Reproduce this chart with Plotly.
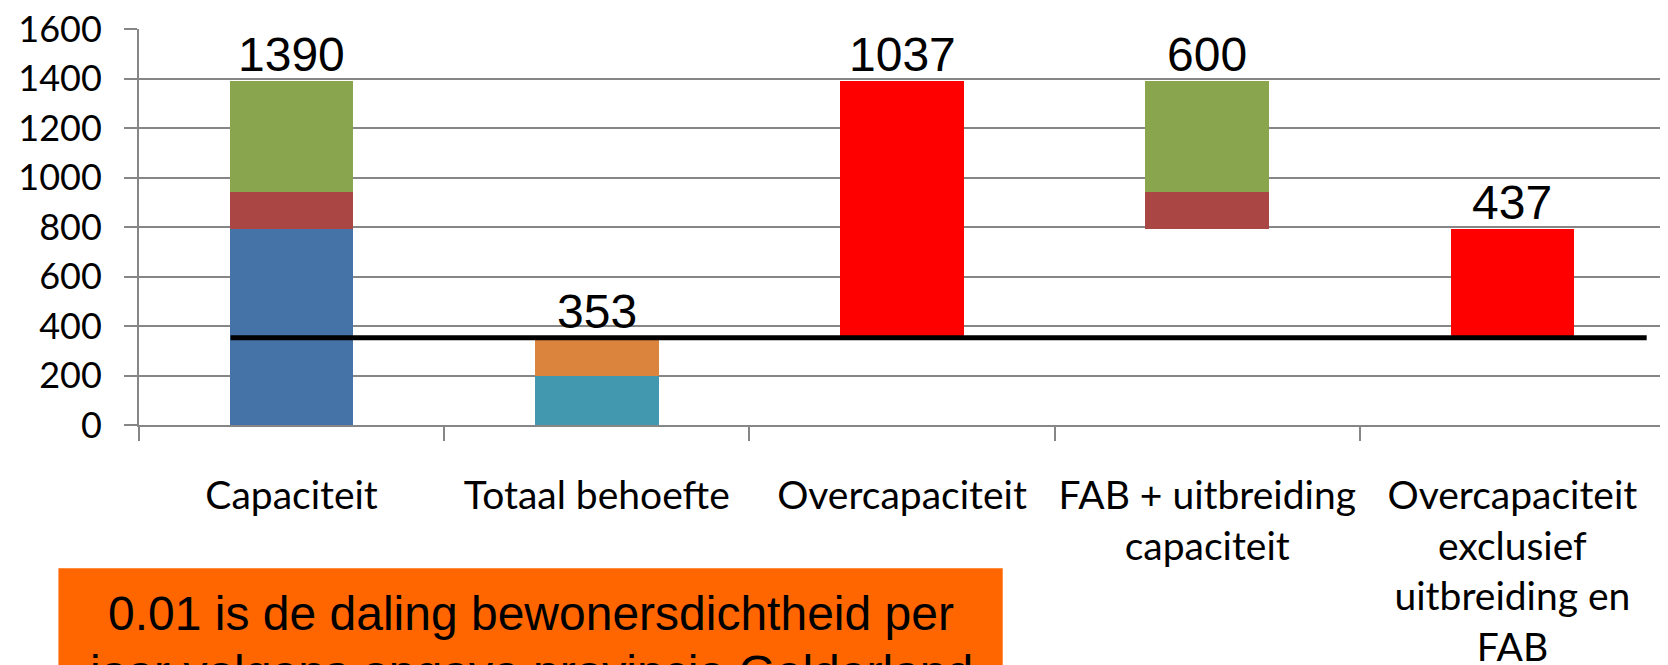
import plotly.graph_objects as go

# categorie-as
categories = [
    "Capaciteit",
    "Totaal behoefte",
    "Overcapaciteit",
    "FAB + uitbreiding<br>capaciteit",
    "Overcapaciteit<br>exclusief<br>uitbreiding en<br>FAB",
]

# gestapelde reeksen (Excel-stijl waterval met onzichtbare basis)
onzichtbaar = [0, 0, 353, 790, 353]
bestaand = [790, 0, 0, 0, 0]
behoefte_a = [0, 200, 0, 0, 0]
behoefte_b = [0, 153, 0, 0, 0]
fab = [150, 0, 0, 150, 0]
uitbreiding = [450, 0, 0, 450, 0]
overcap = [0, 0, 1037, 0, 437]

labels = [1390, 353, 1037, 600, 437]
behoefte_lijn = 353
lijn_x = [-0.2, 4.44]

x = list(range(len(categories)))
series = [
    (onzichtbaar, "rgba(0,0,0,0)"),
    (bestaand, "#4572A7"),
    (behoefte_a, "#4198AF"),
    (behoefte_b, "#DB843D"),
    (fab, "#AA4643"),
    (uitbreiding, "#89A54E"),
    (overcap, "#FF0000"),
]

fig = go.Figure()
for vals, col in series:
    fig.add_trace(go.Bar(
        x=x, y=vals, width=0.405,
        marker=dict(color=col, line=dict(width=0)),
        hoverinfo="skip", showlegend=False,
    ))

fig.add_trace(go.Scatter(
    x=lijn_x, y=[behoefte_lijn, behoefte_lijn], mode="lines",
    line=dict(color="black", width=5), showlegend=False, hoverinfo="skip",
))

tops = [sum(s[0][i] for s in series) for i in x]
for i, (t, lab) in enumerate(zip(tops, labels)):
    fig.add_annotation(
        x=i, y=t, text=str(lab), showarrow=False, yanchor="bottom", yshift=-2,
        font=dict(family="Liberation Sans, Arial", size=48, color="black"),
    )

# oranje tekstvak
fig.add_shape(type="rect", xref="paper", yref="paper",
              x0=-0.0528, x1=0.566, y0=-0.75, y1=-0.3617,
              fillcolor="#FF6600", line=dict(width=0), layer="above")
box_lines = ["0.01 is de daling bewonersdichtheid per",
             "jaar volgens opgave provincie Gelderland"]
for k, txt in enumerate(box_lines):
    fig.add_annotation(
        xref="paper", yref="paper", x=0.2568, y=-0.475 - k * 0.151,
        text=txt, showarrow=False, xanchor="center", yanchor="middle",
        font=dict(family="Liberation Sans, Arial", size=48, color="black"),
    )

fig.update_layout(
    barmode="stack",
    width=1660, height=657,
    margin=dict(l=131, r=3, t=21, b=240, autoexpand=False),
    paper_bgcolor="white", plot_bgcolor="white",
    font=dict(family="Lato, sans-serif", color="black"),
    xaxis=dict(
        range=[-0.5, 4.5],
        tickmode="array", tickvals=x, ticktext=categories,
        ticks="", ticklabelstandoff=35, ticklabeloverflow="allow",
        tickfont=dict(family="Lato", size=39, color="black"),
        showgrid=False, zeroline=False,
        showline=True, linecolor="#868686", linewidth=2,
        minor=dict(tickmode="array", tickvals=[-0.5, 0.5, 1.5, 2.5, 3.5, 4.5],
                   ticks="outside", ticklen=14, tickcolor="#868686", tickwidth=2,
                   showgrid=False),
    ),
    yaxis=dict(
        range=[0, 1600], dtick=200,
        ticks="outside", ticklen=13, tickcolor="#868686", tickwidth=2,
        ticklabelstandoff=15, ticklabeloverflow="allow",
        tickfont=dict(family="Lato", size=36, color="black"),
        showgrid=True, gridcolor="#868686", gridwidth=2,
        zeroline=False,
        showline=True, linecolor="#868686", linewidth=2,
    ),
)

fig.write_html("out.html")
